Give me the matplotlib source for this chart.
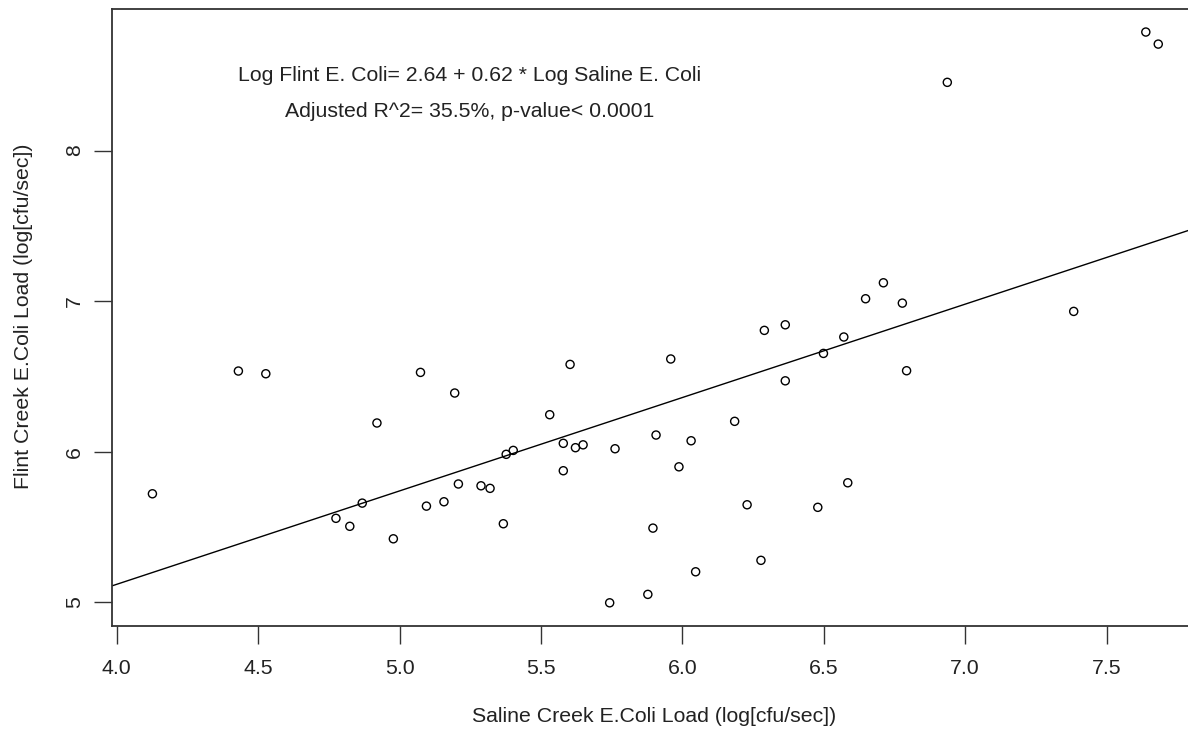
import matplotlib
matplotlib.use("Agg")
import matplotlib.pyplot as plt
import numpy as np

# Log10 E. coli loads (cfu/sec), paired daily samples
saline_load = [
    4.126, 4.430, 4.527, 4.920, 5.074, 5.195, 4.775, 4.824, 4.868, 4.978,
    5.095, 5.157, 5.208, 5.288, 5.320, 5.367, 5.377, 5.402, 5.531, 5.579,
    5.579, 5.603, 5.622, 5.649, 5.762, 5.743, 5.878, 5.896, 5.907, 5.959,
    5.988, 6.031, 6.047, 6.185, 6.229, 6.278, 6.290, 6.364, 6.364, 6.479,
    6.499, 6.571, 6.585, 6.648, 6.711, 6.778, 6.793, 6.937, 7.384, 7.639,
    7.683,
]
flint_load = [
    5.721, 6.536, 6.518, 6.191, 6.527, 6.390, 5.558, 5.505, 5.659, 5.422,
    5.639, 5.668, 5.786, 5.774, 5.757, 5.522, 5.983, 6.009, 6.246, 6.056,
    5.874, 6.580, 6.027, 6.046, 6.020, 4.997, 5.053, 5.493, 6.111, 6.616,
    5.900, 6.073, 5.203, 6.202, 5.648, 5.279, 6.806, 6.843, 6.471, 5.631,
    6.653, 6.762, 5.794, 7.016, 7.122, 6.987, 6.538, 8.453, 6.932, 8.787,
    8.707,
]

# Fitted regression
intercept = 2.64
slope = 0.62
adj_r2 = 35.5

x_ticks = [4.0, 4.5, 5.0, 5.5, 6.0, 6.5, 7.0, 7.5]
y_ticks = [5, 6, 7, 8]

plt.rcParams["font.family"] = ["Liberation Sans", "DejaVu Sans"]
FS = 15.3
INK = "#222222"

W, H = 1188, 730
fig = plt.figure(figsize=(W / 100, H / 100), dpi=100)
ax = fig.add_axes([111.7 / W, (H - 625.7) / H, (1197 - 111.7) / W, (625.7 - 9) / H])

ax.set_xlim(3.982, 7.820)
ax.set_ylim(4.845, 8.940)

ax.scatter(saline_load, flint_load, s=34, facecolors="none", edgecolors="black",
           linewidths=1.0, zorder=3)

xl = np.array(ax.get_xlim())
ax.plot(xl, intercept + slope * xl, color="black", lw=1.0, zorder=2)

ax.text(5.246, 8.501,
        f"Log Flint E. Coli= {intercept:.2f} + {slope:.2f} * Log Saline E. Coli",
        ha="center", va="center", fontsize=FS, color=INK)
ax.text(5.246, 8.257, f"Adjusted R^2= {adj_r2}%, p-value< 0.0001",
        ha="center", va="center", fontsize=FS, color=INK)

ax.set_xticks(x_ticks)
ax.set_xticklabels([f"{v:.1f}" for v in x_ticks])
ax.set_yticks(y_ticks)
ax.set_yticklabels([str(v) for v in y_ticks], rotation=90, va="center")

ax.tick_params(axis="both", direction="out", length=13, width=1.0,
               color="#333333", labelsize=FS, labelcolor=INK)
ax.tick_params(axis="x", pad=11)
ax.tick_params(axis="y", pad=7)

for sp in ax.spines.values():
    sp.set_color("#333333")
    sp.set_linewidth(1.3)

fig.text(653.7 / W, 1 - 717 / H, "Saline Creek E.Coli Load (log[cfu/sec])",
         ha="center", va="center", fontsize=FS, color=INK)
fig.text(24 / W, 1 - 316.7 / H, "Flint Creek E.Coli Load (log[cfu/sec])",
         ha="center", va="center", rotation=90, fontsize=FS, color=INK)

fig.savefig("out.png", dpi=100)
